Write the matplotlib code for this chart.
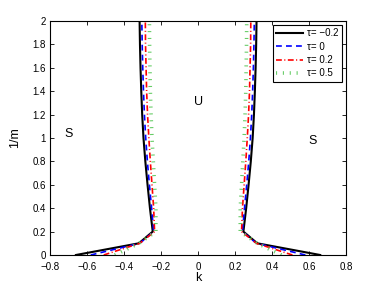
"""Stability boundary curves k(1/m) for several tau values."""

import matplotlib

matplotlib.use("Agg")
import matplotlib.pyplot as plt
import numpy as np

plt.rcParams["font.family"] = ["Liberation Sans", "DejaVu Sans"]
plt.rcParams["font.size"] = 7

# 1/m sample levels and |k| of the boundary (curves are mirrored about k=0)
INV_M = [0.0, 0.1, 0.2, 0.4, 0.6, 0.8, 1.0, 1.2, 1.4, 1.6, 1.8, 2.0]
K_TAU_M02 = [0.66, 0.32, 0.245, 0.26, 0.273, 0.285, 0.295, 0.302, 0.307, 0.311, 0.314, 0.316]
K_TAU_0 = [0.58, 0.315, 0.24, 0.251, 0.263, 0.274, 0.283, 0.29, 0.295, 0.299, 0.302, 0.304]
K_TAU_02 = [0.51, 0.315, 0.235, 0.24, 0.249, 0.258, 0.266, 0.273, 0.278, 0.281, 0.284, 0.285]
K_TAU_05 = [0.45, 0.32, 0.228, 0.228, 0.235, 0.242, 0.249, 0.254, 0.258, 0.26, 0.262, 0.263]
LABELS = ["τ= −0.2", "τ= 0", "τ= 0.2", "τ= 0.5"]

fig = plt.figure(figsize=(3.82, 2.87), dpi=100)
ax = fig.add_axes([0.131, 0.1115, 0.775, 0.8155])

styles = [
    dict(color="black", linestyle="-", linewidth=1.5),
    dict(color="#0000ff", linestyle=(0, (3.5, 2.5)), linewidth=1.2),
    dict(color="#ff0000", linestyle=(0, (3.5, 1.5, 0.6, 1.5)), linewidth=1.2),
    dict(color="#66cc66", linestyle=(0, (0.3, 1.6)), linewidth=2.6, dash_capstyle="butt"),
]
m = np.array(INV_M)
for k, lab, st in zip([K_TAU_M02, K_TAU_0, K_TAU_02, K_TAU_05], LABELS, styles):
    k = np.array(k)
    ax.plot(k, m, label=lab, **st)
    ax.plot(-k, m, **st)

ax.text(-0.7, 1.03, "S", fontsize=9, ha="center", va="center")
ax.text(0.0, 1.31, "U", fontsize=9, ha="center", va="center")
ax.text(0.62, 0.97, "S", fontsize=9, ha="center", va="center")

ax.set_xlim(-0.8, 0.8)
ax.set_ylim(0, 2)
ax.set_xticks(np.arange(-0.8, 0.81, 0.2))
ax.set_xticklabels(["−0.8", "−0.6", "−0.4", "−0.2", "0", "0.2", "0.4", "0.6", "0.8"])
ax.set_yticks(np.arange(0, 2.01, 0.2))
ax.set_yticklabels(["0", "0.2", "0.4", "0.6", "0.8", "1", "1.2", "1.4", "1.6", "1.8", "2"])
ax.tick_params(direction="in", top=True, right=True, length=3, width=0.6, pad=3)
ax.tick_params(axis="x", pad=5)
for sp in ax.spines.values():
    sp.set_linewidth(0.8)
ax.set_xlabel("k", fontsize=9, labelpad=0)
ax.set_ylabel("1/m", fontsize=9, labelpad=8)

leg = ax.legend(loc="upper right", fancybox=False, edgecolor="black", framealpha=1,
                handlelength=2.8, handletextpad=0.4, borderpad=0.35, labelspacing=0.35,
                borderaxespad=0.4, fontsize=7)
leg.get_frame().set_linewidth(0.8)

fig.savefig("out.png", dpi=100)
